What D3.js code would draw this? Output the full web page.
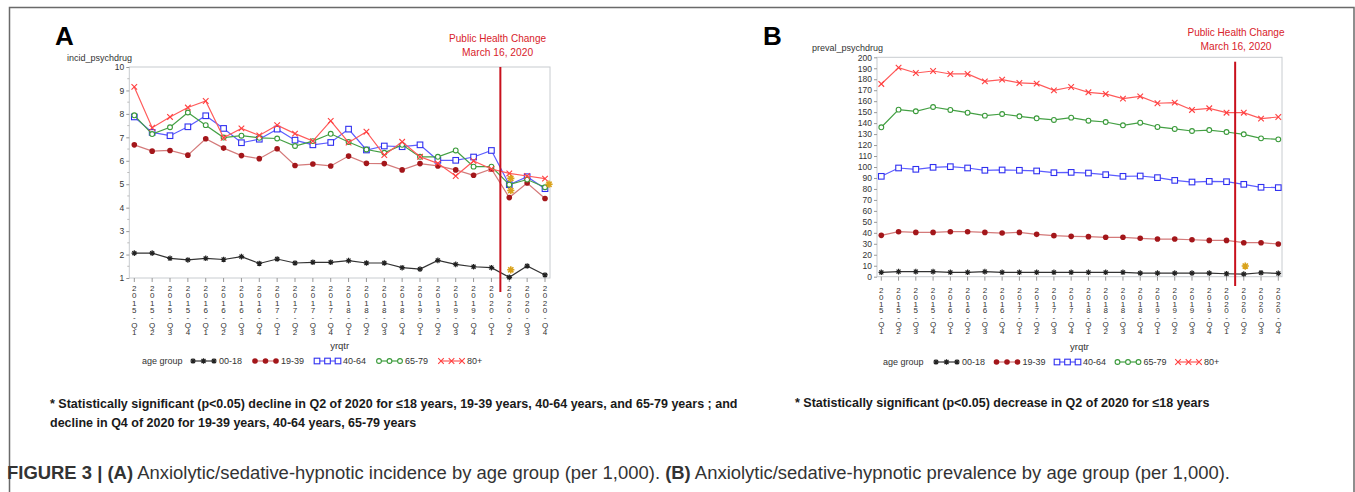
<!DOCTYPE html>
<html>
<head>
<meta charset="utf-8">
<script src="https://cdn.jsdelivr.net/npm/d3@7"></script>
<style>
  body { margin: 0; background: #fff; }
  svg { display: block; }
</style>
</head>
<body>
<script>
// quarters on the x axis (same for both panels)
var quarters = ["2015-Q1", "2015-Q2", "2015-Q3", "2015-Q4", "2016-Q1", "2016-Q2", "2016-Q3", "2016-Q4",
  "2017-Q1", "2017-Q2", "2017-Q3", "2017-Q4", "2018-Q1", "2018-Q2", "2018-Q3", "2018-Q4",
  "2019-Q1", "2019-Q2", "2019-Q3", "2019-Q4", "2020-Q1", "2020-Q2", "2020-Q3", "2020-Q4"];
var ageGroups = ["00-18", "19-39", "40-64", "65-79", "80+"];

// panel A: incidence per 1,000
var incid_00_18 = [2.06, 2.06, 1.84, 1.77, 1.84, 1.79, 1.91, 1.62, 1.81, 1.64, 1.67, 1.67, 1.74, 1.64, 1.64, 1.44, 1.38, 1.75, 1.58, 1.48, 1.44, 1.03, 1.51, 1.13];
var incid_19_39 = [6.68, 6.41, 6.44, 6.24, 6.94, 6.54, 6.22, 6.09, 6.51, 5.80, 5.86, 5.78, 6.20, 5.89, 5.88, 5.61, 5.88, 5.78, 5.61, 5.38, 5.65, 4.43, 5.05, 4.39];
var incid_40_64 = [7.87, 7.21, 7.07, 7.45, 7.92, 7.38, 6.77, 6.92, 7.35, 6.88, 6.68, 6.78, 7.35, 6.46, 6.63, 6.60, 6.68, 6.02, 6.02, 6.16, 6.44, 4.98, 5.32, 4.81];
var incid_65_79 = [7.94, 7.14, 7.43, 8.06, 7.52, 6.99, 7.07, 6.98, 6.95, 6.63, 6.84, 7.15, 6.80, 6.48, 6.34, 6.68, 6.17, 6.17, 6.44, 5.75, 5.75, 4.98, 5.20, 4.87];
var incid_80p   = [9.15, 7.41, 7.87, 8.27, 8.55, 6.98, 7.38, 7.08, 7.52, 7.16, 6.84, 7.70, 6.78, 7.24, 6.24, 6.81, 6.17, 5.89, 5.35, 5.99, 5.65, 5.46, 5.35, 5.24];
var incidTicks = [1, 2, 3, 4, 5, 6, 7, 8, 9, 10];
// significance asterisks [quarter, value]
var incidSig = [["2020-Q2", 5.25], ["2020-Q2", 4.73], ["2020-Q2", 1.35], ["2020-Q4", 5.0]];

// panel B: prevalence per 1,000
var preval_00_18 = [4.0, 4.6, 4.6, 4.6, 4.0, 4.0, 4.6, 4.0, 4.0, 4.0, 4.0, 4.0, 4.0, 4.0, 4.0, 3.3, 3.3, 3.3, 3.3, 3.3, 2.7, 2.4, 3.6, 3.0];
var preval_19_39 = [37.7, 41.0, 40.4, 40.4, 41.0, 41.0, 40.4, 39.8, 40.4, 38.6, 37.4, 36.8, 36.5, 35.9, 35.9, 35.0, 34.3, 34.3, 33.7, 33.1, 33.1, 31.0, 31.0, 29.8];
var preval_40_64 = [91.5, 99.1, 97.9, 99.7, 100.3, 99.1, 97.0, 97.3, 97.0, 96.4, 94.8, 95.1, 94.5, 93.0, 91.5, 91.8, 90.3, 87.8, 86.3, 86.9, 86.6, 84.2, 81.5, 81.2];
var preval_65_79 = [136.2, 152.3, 150.8, 154.7, 152.0, 149.5, 146.8, 148.3, 146.2, 144.4, 142.9, 145.0, 142.2, 141.0, 138.0, 140.4, 136.5, 134.7, 132.8, 133.7, 131.9, 129.8, 126.1, 125.2];
var preval_80p   = [175.7, 190.6, 185.7, 187.5, 184.8, 184.8, 178.1, 179.6, 176.6, 176.0, 169.9, 172.9, 168.1, 166.6, 162.3, 164.4, 158.1, 158.7, 152.0, 153.5, 149.5, 149.5, 144.1, 145.6];
var prevalTicks = d3.range(0, 201, 10);
var prevalSig = [["2020-Q2", 9.7]];

var changeQuarterBefore = "2020-Q1", changeQuarterAfter = "2020-Q2";

var W = 1355, H = 492;
var svg = d3.select("body").append("svg").attr("width", W).attr("height", H);

var styles = {
  "00-18": { line: "#333", mark: "star", stroke: "#222", fill: "#222" },
  "19-39": { line: "#d47a7a", mark: "dot", stroke: "#a3161a", fill: "#a3161a" },
  "40-64": { line: "#5c5cff", mark: "square", stroke: "#3030f0", fill: "#fff" },
  "65-79": { line: "#44a044", mark: "diamond", stroke: "#3a9a3a", fill: "#fff" },
  "80+":   { line: "#ff5a5a", mark: "cross", stroke: "#ff4040", fill: "none" }
};

// outer figure border
svg.append("path")
  .attr("d", "M9.5," + H + "V7.5H1354V" + H)
  .attr("fill", "none").attr("stroke", "#6a6a6a").attr("stroke-width", 1.5);

function marker(g, type, x, y, st) {
  if (type == "dot") {
    g.append("circle").attr("cx", x).attr("cy", y).attr("r", 2.8).attr("fill", st.fill);
  } else if (type == "square") {
    g.append("rect").attr("x", x - 2.8).attr("y", y - 2.8).attr("width", 5.6).attr("height", 5.6)
      .attr("fill", "#fff").attr("stroke", st.stroke).attr("stroke-width", 1.1);
  } else if (type == "diamond") {
    g.append("circle").attr("cx", x).attr("cy", y).attr("r", 2.4)
      .attr("fill", "#fff").attr("stroke", st.stroke).attr("stroke-width", 1.1);
  } else if (type == "cross") {
    var s = 2.8;
    g.append("path").attr("d", "M" + (x - s) + "," + (y - s) + "L" + (x + s) + "," + (y + s) +
      "M" + (x - s) + "," + (y + s) + "L" + (x + s) + "," + (y - s))
      .attr("stroke", st.stroke).attr("stroke-width", 1.1);
  } else if (type == "star") {
    var s = 2.8;
    g.append("path").attr("d", "M" + (x - s) + "," + y + "H" + (x + s) + "M" + x + "," + (y - s) + "V" + (y + s) +
      "M" + (x - 2) + "," + (y - 2) + "L" + (x + 2) + "," + (y + 2) + "M" + (x - 2) + "," + (y + 2) + "L" + (x + 2) + "," + (y - 2))
      .attr("stroke", st.stroke).attr("stroke-width", 1.2);
  }
}

function sigStar(g, x, y) {
  var s = 3.6, d = 2.6;
  g.append("path").attr("d", "M" + (x - s) + "," + y + "H" + (x + s) + "M" + x + "," + (y - s) + "V" + (y + s) +
    "M" + (x - d) + "," + (y - d) + "L" + (x + d) + "," + (y + d) + "M" + (x - d) + "," + (y + d) + "L" + (x + d) + "," + (y - d))
    .attr("stroke", "#d9a21b").attr("stroke-width", 1.6);
}

function drawPanel(p) {
  var g = svg.append("g");
  var x = d3.scalePoint().domain(quarters).range([p.x0, p.x1]);
  var y = d3.scaleLinear().domain(p.domain).range([p.yb, p.yt]);

  // frame
  g.append("rect").attr("x", p.fl).attr("y", p.yt).attr("width", p.fr - p.fl).attr("height", p.yb - p.yt)
    .attr("fill", "none").attr("stroke", "#c8ccd0").attr("stroke-width", 1);

  // y axis
  var ya = g.append("g").attr("transform", "translate(" + p.fl + ",0)")
    .call(d3.axisLeft(y).tickValues(p.ticks).tickSize(3).tickPadding(2).tickFormat(d3.format("d")));
  ya.select(".domain").remove();
  ya.selectAll("line").attr("stroke", "#999");
  ya.selectAll("text").attr("font-family", "Liberation Sans, Arial, sans-serif").attr("font-size", 8.5).attr("fill", "#333");
  if (p.minor) {
    g.append("g").selectAll("line").data(p.minor).enter().append("line")
      .attr("x1", p.fl - 2).attr("x2", p.fl).attr("y1", function (d) { return y(d); }).attr("y2", function (d) { return y(d); })
      .attr("stroke", "#bbb");
  }

  // x axis ticks and stacked labels
  var xa = g.append("g");
  xa.selectAll("line").data(quarters).enter().append("line")
    .attr("x1", function (d) { return x(d); }).attr("x2", function (d) { return x(d); })
    .attr("y1", p.yb).attr("y2", p.yb + 4).attr("stroke", "#999");
  var lab = xa.selectAll("text").data(quarters).enter().append("text")
    .attr("font-family", "Liberation Sans, Arial, sans-serif").attr("font-size", 8).attr("fill", "#333")
    .attr("text-anchor", "middle");
  lab.each(function (d) {
    var t = d3.select(this);
    d.split("").forEach(function (c, i) {
      t.append("tspan").attr("x", x(d)).attr("y", p.labY + i * p.labStep).text(c);
    });
  });

  svg.append("text").attr("x", (p.fl + p.fr) / 2).attr("y", p.xTitleY).attr("text-anchor", "middle")
    .attr("font-family", "Liberation Sans, Arial, sans-serif").attr("font-size", 9.5).attr("fill", "#333").text("yrqtr");
  svg.append("text").attr("x", p.yTitleX).attr("y", p.yTitleY)
    .attr("font-family", "Liberation Sans, Arial, sans-serif").attr("font-size", 9).attr("fill", "#333").text(p.yTitle);

  // series
  var line = d3.line().x(function (d, i) { return x(quarters[i]); }).y(function (d) { return y(d); });
  p.series.forEach(function (vals, k) {
    var st = styles[ageGroups[k]];
    g.append("path").datum(vals).attr("d", line).attr("fill", "none").attr("stroke", st.line).attr("stroke-width", 1.2);
    var mg = g.append("g");
    vals.forEach(function (v, i) { marker(mg, st.mark, x(quarters[i]), y(v), st); });
  });

  // significance stars
  p.sig.forEach(function (s, i) {
    var dx = (s[0] == quarters[quarters.length - 1]) ? 4 : 1.5;
    sigStar(g, x(s[0]) + dx, y(s[1]));
  });

  // public health change line
  var xc = (x(changeQuarterBefore) + x(changeQuarterAfter)) / 2 + p.lineShift;
  g.append("line").attr("x1", xc).attr("x2", xc).attr("y1", p.lineTop).attr("y2", p.lineBottom)
    .attr("stroke", "#c8101c").attr("stroke-width", 2);
  var tt = svg.append("text").attr("text-anchor", "middle").attr("fill", "#d8222a")
    .attr("font-family", "Liberation Sans, Arial, sans-serif").attr("font-size", 11);
  tt.append("tspan").attr("x", p.noteX).attr("y", p.noteY).attr("textLength", 97).attr("lengthAdjust", "spacingAndGlyphs").text("Public Health Change");
  tt.append("tspan").attr("x", p.noteX).attr("y", p.noteY + 14).attr("textLength", 71).attr("lengthAdjust", "spacingAndGlyphs").text("March 16, 2020");

  // panel letter
  svg.append("text").attr("x", p.letterX).attr("y", 45).attr("font-family", "Liberation Sans, Arial, sans-serif")
    .attr("font-weight", "bold").attr("font-size", 26).attr("fill", "#000").text(p.letter);

  // legend
  var lg = svg.append("g").attr("font-family", "Liberation Sans, Arial, sans-serif").attr("font-size", 9).attr("fill", "#333");
  lg.append("text").attr("x", p.legX).attr("y", p.legY + 3).text("age group");
  ageGroups.forEach(function (a, k) {
    var st = styles[a];
    var lx = p.legItemX + k * p.legStep;
    lg.append("line").attr("x1", lx).attr("x2", lx + 21).attr("y1", p.legY).attr("y2", p.legY)
      .attr("stroke", st.line).attr("stroke-width", 1.2);
    [0, 10.5, 21].forEach(function (o) { marker(lg, st.mark, lx + o, p.legY, st); });
    lg.append("text").attr("x", lx + 26).attr("y", p.legY + 3).text(a);
  });
}

drawPanel({
  letter: "A", letterX: 55,
  x0: 134.3, x1: 545, fl: 129.3, fr: 550, yt: 67, yb: 278,
  domain: [1, 10], ticks: incidTicks, minor: d3.range(1.5, 10, 1),
  series: [incid_00_18, incid_19_39, incid_40_64, incid_65_79, incid_80p],
  sig: incidSig,
  labY: 291, labStep: 7.3, xTitleY: 349,
  yTitle: "incid_psychdrug", yTitleX: 67, yTitleY: 61,
  lineShift: 0, lineTop: 67, lineBottom: 292,
  noteX: 497.6, noteY: 42,
  legX: 142, legY: 361, legItemX: 193, legStep: 62
});

drawPanel({
  letter: "B", letterX: 763,
  x0: 881.3, x1: 1278.3, fl: 877, fr: 1282, yt: 57.3, yb: 276.7,
  domain: [0, 200], ticks: prevalTicks, minor: null,
  series: [preval_00_18, preval_19_39, preval_40_64, preval_65_79, preval_80p],
  sig: prevalSig,
  labY: 293, labStep: 6.8, xTitleY: 350,
  yTitle: "preval_psychdrug", yTitleX: 812, yTitleY: 51,
  lineShift: 0, lineTop: 61.7, lineBottom: 286,
  noteX: 1236, noteY: 36,
  legX: 883, legY: 362, legItemX: 936, legStep: 60.5
});

// footnotes
var fn = svg.append("g").attr("font-family", "Liberation Sans, Arial, sans-serif")
  .attr("font-size", 12.5).attr("font-weight", "bold").attr("fill", "#1a1a1a");
fn.append("text").attr("x", 50).attr("y", 408)
  .text("* Statistically significant (p<0.05) decline in Q2 of 2020 for \u226418 years, 19-39 years, 40-64 years, and 65-79 years ; and");
fn.append("text").attr("x", 50).attr("y", 427)
  .text("decline in Q4 of 2020 for 19-39 years, 40-64 years, 65-79 years");
fn.append("text").attr("x", 795).attr("y", 407)
  .text("* Statistically significant (p<0.05) decrease in Q2 of 2020 for \u226418 years");

// caption
var cap = svg.append("text").attr("x", 7).attr("y", 479).attr("textLength", 1223).attr("lengthAdjust", "spacingAndGlyphs")
  .attr("font-family", "Liberation Sans, Arial, sans-serif").attr("font-size", 17.5).attr("fill", "#333");
cap.append("tspan").attr("font-weight", "bold").text("FIGURE 3 | (A)");
cap.append("tspan").text(" Anxiolytic/sedative-hypnotic incidence by age group (per 1,000). ");
cap.append("tspan").attr("font-weight", "bold").text("(B)");
cap.append("tspan").text(" Anxiolytic/sedative-hypnotic prevalence by age group (per 1,000).");
</script>
</body>
</html>
